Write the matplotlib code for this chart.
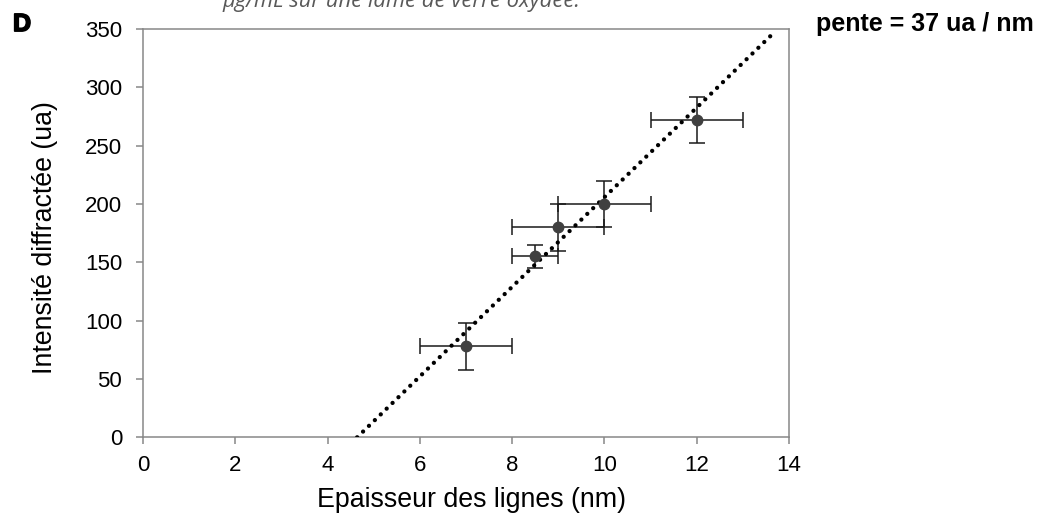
import numpy as np
import matplotlib.pyplot as plt
import matplotlib.patheffects as pe

plt.rcParams["font.family"] = ["Liberation Sans", "DejaVu Sans"]

## données
epaisseur = [7, 8.5, 9, 10, 12]          # nm
intensite = [78, 155, 180, 200, 272]     # ua
err_x = [1, 0.5, 1, 1, 1]
err_y = [20, 10, 20, 20, 20]

# courbe de tendance (extrémités)
trend_x = [4.64, 13.65]
trend_y = [0, 346]

x_ticks = [0, 2, 4, 6, 8, 10, 12, 14]
y_ticks = [0, 50, 100, 150, 200, 250, 300, 350]

fig = plt.figure(figsize=(10.58, 5.27), dpi=100)
ax = fig.add_axes([0.1352, 0.1702, 0.6106, 0.7748])

grey = "#888888"

ax.errorbar(epaisseur, intensite, xerr=err_x, yerr=err_y, fmt="none",
            ecolor="#1a1a1a", elinewidth=1.1, capsize=5.8, capthick=1.1, zorder=2)
ax.plot(trend_x, trend_y, color="black", lw=3.1, dashes=(0.01, 1.9),
        dash_capstyle="round", zorder=3)
ax.plot(epaisseur, intensite, "o", color="#404040", ms=7.5, zorder=4)

ax.set_xlim(0, 14)
ax.set_ylim(0, 350)
ax.set_xticks(x_ticks)
ax.set_yticks(y_ticks)
ax.tick_params(direction="out", length=5, width=1.1, color=grey,
               labelsize=16)
ax.tick_params(axis="y", pad=10)
ax.tick_params(axis="x", pad=8)
for s in ax.spines.values():
    s.set_color(grey)
    s.set_linewidth(1.1)

fig.text(0.0425, 0.55, "Intensité diffractée (ua)", rotation=90,
         ha="center", va="center", fontsize=19.3)
fig.text(0.446, 0.051, "Epaisseur des lignes (nm)", ha="center",
         va="center", fontsize=19.3)

fig.text(0.0123, 0.941, "D", fontsize=18, fontweight="heavy",
         ha="left", va="baseline",
         path_effects=[pe.withStroke(linewidth=1.2, foreground="black")])
fig.text(0.771, 0.941, "pente = 37 ua / nm", fontsize=18, fontweight="bold",
         ha="left", va="baseline")
fig.text(0.21, 0.9867, "µg/mL sur une lame de verre oxydée.",
         family=["Open Sans", "DejaVu Sans"], style="italic",
         color="#595959", fontsize=15.8, ha="left", va="baseline")

plt.savefig("out.png", dpi=100)
